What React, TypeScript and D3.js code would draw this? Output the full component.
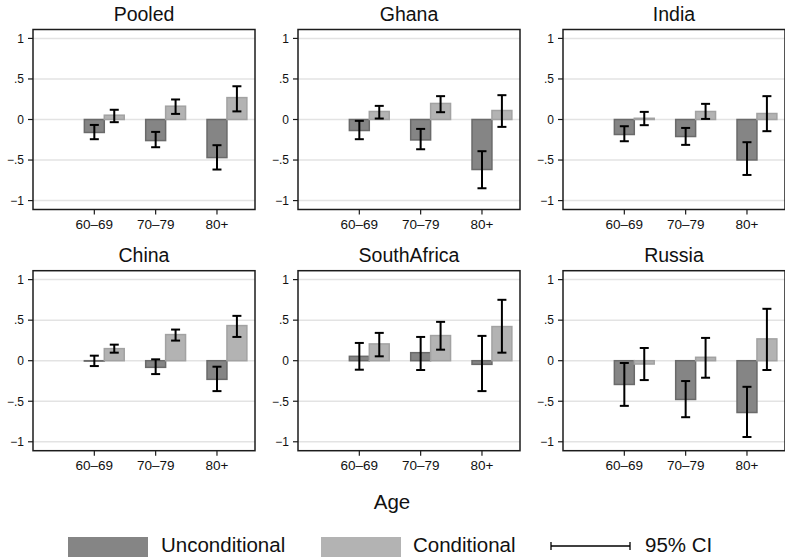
import React from "react";
import * as d3 from "d3";

// panel titles and age groups
const panelNames = ["Pooled", "Ghana", "India", "China", "SouthAfrica", "Russia"];
const ageGroups = ["60–69", "70–79", "80+"];
const yTicks = [-1, -0.5, 0, 0.5, 1];
const yTickLabels = ["−1", "−.5", "0", ".5", "1"];

// Unconditional estimates and 95% CI (one row per panel)
const uncondEst = [
  [-0.16, -0.26, -0.47],
  [-0.136, -0.252, -0.617],
  [-0.185, -0.21, -0.499],
  [-0.005, -0.082, -0.23],
  [0.054, 0.099, -0.045],
  [-0.293, -0.478, -0.639],
];
const uncondLo = [
  [-0.243, -0.342, -0.617],
  [-0.243, -0.367, -0.848],
  [-0.268, -0.313, -0.684],
  [-0.066, -0.165, -0.375],
  [-0.111, -0.115, -0.375],
  [-0.557, -0.697, -0.941],
];
const uncondHi = [
  [-0.067, -0.153, -0.317],
  [-0.017, -0.116, -0.391],
  [-0.083, -0.104, -0.28],
  [0.062, 0.017, -0.074],
  [0.219, 0.293, 0.306],
  [-0.028, -0.251, -0.322],
];

// Conditional estimates and 95% CI
const condEst = [
  [0.053, 0.164, 0.27],
  [0.099, 0.198, 0.111],
  [0.015, 0.099, 0.074],
  [0.149, 0.322, 0.433],
  [0.207, 0.31, 0.421],
  [-0.041, 0.042, 0.269],
];
const condLo = [
  [-0.033, 0.069, 0.1],
  [0.012, 0.09, -0.091],
  [-0.07, 0.007, -0.144],
  [0.099, 0.248, 0.293],
  [0.054, 0.136, 0.099],
  [-0.239, -0.21, -0.115],
];
const condHi = [
  [0.12, 0.247, 0.41],
  [0.168, 0.288, 0.3],
  [0.094, 0.193, 0.288],
  [0.198, 0.384, 0.553],
  [0.343, 0.479, 0.751],
  [0.157, 0.281, 0.64],
];

const W = 785;
const H = 557;
const plotW = 222;
const plotH = 180;
const font = "'Liberation Sans', Arial, Helvetica, sans-serif";
const darkFill = "#858585";
const darkStroke = "#6a6a6a";
const lightFill = "#b3b3b3";
const lightStroke = "#a2a2a2";
const barW = 0.325;
const capHalf = 4.5;

const x = d3.scaleLinear().domain([0, 3.62]).range([0, plotW]);
const y = d3.scaleLinear().domain([-1.11, 1.11]).range([plotH, 0]);

function ErrorBar({ cx, lo, hi }: { cx: number; lo: number; hi: number }) {
  return (
    <g stroke="#000" strokeWidth={2}>
      <line x1={cx} x2={cx} y1={y(lo)} y2={y(hi)} />
      <line x1={cx - capHalf} x2={cx + capHalf} y1={y(lo)} y2={y(lo)} />
      <line x1={cx - capHalf} x2={cx + capHalf} y1={y(hi)} y2={y(hi)} />
    </g>
  );
}

function Panel({ idx }: { idx: number }) {
  const col = idx % 3;
  const row = Math.floor(idx / 3);
  const left = 33 + col * 265;
  const top = 29.5 + row * 241.2;
  const bw = x(barW) - x(0);

  return (
    <g transform={`translate(${left},${top})`}>
      <text x={plotW / 2} y={-9} textAnchor="middle" fontSize={19.5} fill="#111">
        {panelNames[idx]}
      </text>
      {/* gridlines */}
      {yTicks.map((t) => (
        <line key={t} x1={0} x2={plotW} y1={y(t)} y2={y(t)} stroke="#e3e3e3" strokeWidth={1.5} />
      ))}
      {/* bars */}
      {ageGroups.map((g, i) => {
        const cx = x(i + 1);
        const u = uncondEst[idx][i];
        const c = condEst[idx][i];
        return (
          <g key={g}>
            <rect
              x={cx - bw / 2}
              width={bw}
              y={Math.min(y(u), y(0))}
              height={Math.abs(y(u) - y(0))}
              fill={darkFill}
              stroke={darkStroke}
              strokeWidth={1.5}
            />
            <rect
              x={cx + bw / 2}
              width={bw}
              y={Math.min(y(c), y(0))}
              height={Math.abs(y(c) - y(0))}
              fill={lightFill}
              stroke={lightStroke}
              strokeWidth={1.5}
            />
          </g>
        );
      })}
      {/* confidence intervals */}
      {ageGroups.map((g, i) => (
        <g key={g}>
          <ErrorBar cx={x(i + 1)} lo={uncondLo[idx][i]} hi={uncondHi[idx][i]} />
          <ErrorBar cx={x(i + 1) + bw} lo={condLo[idx][i]} hi={condHi[idx][i]} />
        </g>
      ))}
      {/* frame */}
      <rect x={0} y={0} width={plotW} height={plotH} fill="none" stroke="#1c1c1c" strokeWidth={1.5} />
      {/* y axis */}
      {yTicks.map((t, k) => (
        <g key={t}>
          <line x1={-5} x2={0} y1={y(t)} y2={y(t)} stroke="#1c1c1c" strokeWidth={1.2} />
          <text x={-9} y={y(t) + 4.3} textAnchor="end" fontSize={12} fill="#111">
            {yTickLabels[k]}
          </text>
        </g>
      ))}
      {/* x axis */}
      {ageGroups.map((g, i) => (
        <g key={g}>
          <line x1={x(i + 1)} x2={x(i + 1)} y1={plotH} y2={plotH + 5} stroke="#1c1c1c" strokeWidth={1.2} />
          <text x={x(i + 1)} y={plotH + 19} textAnchor="middle" fontSize={13.5} fill="#111">
            {g}
          </text>
        </g>
      ))}
    </g>
  );
}

export default function App() {
  return (
    <svg
      width={W}
      height={H}
      style={{ position: "absolute", left: 0, top: 0, background: "#fff" }}
      fontFamily={font}
    >
      <rect width={W} height={H} fill="#fff" />
      {panelNames.map((p, i) => (
        <Panel key={p} idx={i} />
      ))}
      <text x={392} y={509} textAnchor="middle" fontSize={20.5} fill="#111">
        Age
      </text>
      {/* legend */}
      <rect x={68} y={537} width={80} height={20} fill={darkFill} />
      <text x={161} y={552} fontSize={20.5} fill="#111">Unconditional</text>
      <rect x={321} y={537} width={80} height={20} fill={lightFill} />
      <text x={413} y={552} fontSize={20.5} fill="#111">Conditional</text>
      <g stroke="#000" strokeWidth={1.3}>
        <line x1={551} x2={630} y1={546} y2={546} />
        <line x1={551} x2={551} y1={542} y2={550} />
        <line x1={630} x2={630} y1={542} y2={550} />
      </g>
      <text x={645} y={552} fontSize={20.5} fill="#111">95% CI</text>
    </svg>
  );
}
